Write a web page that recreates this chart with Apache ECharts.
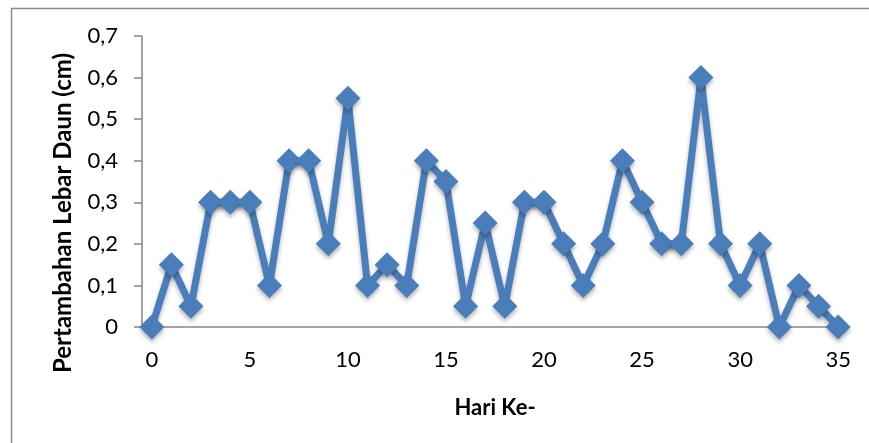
<!DOCTYPE html>
<html>
<head>
<meta charset="utf-8">
<script src="https://cdn.jsdelivr.net/npm/echarts@6/dist/echarts.min.js"></script>
<style>
  html, body { margin: 0; padding: 0; background: #fff; }
  #chart { width: 869px; height: 443px; }
</style>
</head>
<body>
<div id="chart"></div>
<script>
// Day numbers (x categories) and daily leaf-width increase (cm)
const days = ['0','1','2','3','4','5','6','7','8','9','10','11','12','13','14','15','16','17',
              '18','19','20','21','22','23','24','25','26','27','28','29','30','31','32','33','34','35'];
const leafWidthGain = [0, 0.15, 0.05, 0.3, 0.3, 0.3, 0.1, 0.4, 0.4, 0.2, 0.55, 0.1, 0.15, 0.1,
                       0.4, 0.35, 0.05, 0.25, 0.05, 0.3, 0.3, 0.2, 0.1, 0.2, 0.4, 0.3, 0.2, 0.2,
                       0.6, 0.2, 0.1, 0.2, 0, 0.1, 0.05, 0];
const yTitle = 'Pertambahan Lebar Daun (cm)';
const xTitle = 'Hari Ke-';

const font = 'Lato, "Open Sans", sans-serif';
const chart = echarts.init(document.getElementById('chart'), null, { renderer: 'canvas' });

chart.setOption({
  animation: false,
  backgroundColor: '#fff',
  graphic: [{
    // chart-area frame (continues past the right and bottom edges)
    type: 'rect',
    left: 9, top: 6,
    shape: { width: 900, height: 500 },
    style: { fill: 'none', stroke: '#8c8c8c', lineWidth: 1.5 },
    silent: true
  }, {
    // vertical axis title, centred on the whole chart area
    type: 'text',
    x: 63, y: 213,
    rotation: Math.PI / 2,
    style: {
      text: yTitle,
      fontFamily: font, fontSize: 24, fontWeight: 'bold', fill: '#000',
      align: 'center', verticalAlign: 'middle'
    },
    silent: true
  }],
  grid: { left: 142, right: 21, top: 36, bottom: 116 },
  xAxis: {
    type: 'category',
    data: days,
    boundaryGap: true,
    name: xTitle,
    nameLocation: 'middle',
    nameGap: 70,
    nameTextStyle: { fontFamily: font, fontSize: 22, fontWeight: 'bold', color: '#000' },
    axisLine: { lineStyle: { color: '#868686', width: 1.5 } },
    axisTick: { show: false },
    axisLabel: { interval: 4, margin: 22, fontFamily: font, fontSize: 22, color: '#000' },
    splitLine: { show: false }
  },
  yAxis: {
    type: 'value',
    min: 0, max: 0.7, interval: 0.1,
    axisLine: { show: true, lineStyle: { color: '#868686', width: 1.5 } },
    axisTick: { show: true, length: 8, lineStyle: { color: '#868686', width: 1.5 } },
    axisLabel: {
      margin: 24, fontFamily: font, fontSize: 22, color: '#000',
      formatter: v => String(Math.round(v * 10) / 10).replace('.', ',')
    },
    splitLine: { show: false }
  },
  series: [{
    type: 'line',
    data: leafWidthGain,
    symbol: 'diamond',
    symbolSize: [25, 25],
    showAllSymbol: true,
    lineStyle: {
      color: '#4a7ebb', width: 7,
      shadowColor: 'rgba(0,0,0,0.3)', shadowBlur: 4, shadowOffsetY: 3
    },
    itemStyle: {
      color: '#4a7ebb', borderWidth: 0,
      shadowColor: 'rgba(0,0,0,0.3)', shadowBlur: 4, shadowOffsetY: 3
    }
  }]
});
</script>
</body>
</html>
